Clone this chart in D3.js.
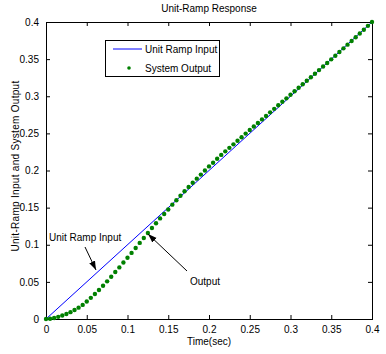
<!DOCTYPE html>
<html><head><meta charset="utf-8">
<script src="https://cdn.jsdelivr.net/npm/d3@7"></script>
<style>body{margin:0;background:#fff}svg{display:block;font-family:"Liberation Sans",Arial,sans-serif}</style>
</head><body><svg id="c" width="386" height="354"></svg>
<script>
const time = [0,0.005,0.01,0.015,0.02,0.025,0.03,0.035,0.04,0.045,0.05,0.055,0.06,0.065,0.07,0.075,0.08,0.085,0.09,0.095,0.1,0.105,0.11,0.115,0.12,0.125,0.13,0.135,0.14,0.145,0.15,0.155,0.16,0.165,0.17,0.175,0.18,0.185,0.19,0.195,0.2,0.205,0.21,0.215,0.22,0.225,0.23,0.235,0.24,0.245,0.25,0.255,0.26,0.265,0.27,0.275,0.28,0.285,0.29,0.295,0.3,0.305,0.31,0.315,0.32,0.325,0.33,0.335,0.34,0.345,0.35,0.355,0.36,0.365,0.37,0.375,0.38,0.385,0.39,0.395,0.4];
const systemOutput = [0,0.0004,0.0014,0.0029,0.0047,0.0068,0.0092,0.0121,0.0153,0.019,0.0235,0.0285,0.0337,0.039,0.0447,0.0507,0.057,0.0632,0.0695,0.076,0.0825,0.089,0.0957,0.1025,0.109,0.1158,0.1225,0.129,0.1355,0.1415,0.1475,0.154,0.16,0.166,0.172,0.1777,0.1835,0.189,0.1945,0.2,0.2055,0.2105,0.2158,0.221,0.2258,0.2305,0.2352,0.24,0.2448,0.2497,0.2545,0.2592,0.264,0.2688,0.2735,0.2783,0.283,0.2878,0.2925,0.2972,0.302,0.3067,0.3115,0.3162,0.3208,0.3256,0.3304,0.3352,0.34,0.3448,0.3497,0.3546,0.3595,0.3645,0.3695,0.3745,0.3795,0.3845,0.3895,0.3948,0.4];
const inputTime = [0, 0.4];
const rampInput = [0, 0.4];
const xTicks = [0,0.05,0.1,0.15,0.2,0.25,0.3,0.35,0.4];
const yTicks = [0,0.05,0.1,0.15,0.2,0.25,0.3,0.35,0.4];
const xTickLabels = ["0","0.05","0.1","0.15","0.2","0.25","0.3","0.35","0.4"];
const yTickLabels = ["0","0.05","0.1","0.15","0.2","0.25","0.3","0.35","0.4"];
const legendLabels = ["Unit Ramp Input","System Output"];

const L=46,T=22,W=326,H=297;
const svg=d3.select("#c");
const x=d3.scaleLinear().domain([0,0.4]).range([L,L+W]);
const y=d3.scaleLinear().domain([0,0.4]).range([T+H,T]);
const fs=10;

const g=svg.append("g");
g.append("g").attr("transform",`translate(0,${T+H})`)
 .call(d3.axisBottom(x).tickValues(xTicks).tickSize(-4).tickPadding(7).tickFormat((d,i)=>xTickLabels[i]))
 .call(a=>a.select(".domain").remove());
g.append("g").attr("transform",`translate(0,${T})`)
 .call(d3.axisTop(x).tickValues(xTicks).tickSize(-4).tickFormat(""))
 .call(a=>a.select(".domain").remove());
g.append("g").attr("transform",`translate(${L},0)`)
 .call(d3.axisLeft(y).tickValues(yTicks).tickSize(-4).tickPadding(7).tickFormat((d,i)=>yTickLabels[i]))
 .call(a=>a.select(".domain").remove());
g.append("g").attr("transform",`translate(${L+W},0)`)
 .call(d3.axisRight(y).tickValues(yTicks).tickSize(-4).tickFormat(""))
 .call(a=>a.select(".domain").remove());
g.selectAll("text").attr("font-size",fs).attr("font-family","Liberation Sans, Arial, sans-serif").attr("fill","#000");
g.selectAll("line").attr("stroke","#000");

svg.append("rect").attr("x",L+0.5).attr("y",T+0.5).attr("width",W).attr("height",H)
 .attr("fill","none").attr("stroke","#000").attr("stroke-width",1);

svg.append("path").datum(inputTime.map((t,i)=>[t,rampInput[i]]))
 .attr("d",d3.line().x(d=>x(d[0])).y(d=>y(d[1])))
 .attr("fill","none").attr("stroke","#0000ff").attr("stroke-width",1);

svg.append("g").selectAll("circle").data(time.map((t,i)=>[t,systemOutput[i]])).join("circle")
 .attr("cx",d=>x(d[0])).attr("cy",d=>y(d[1])).attr("r",2.2).attr("fill","#008000");

svg.append("text").attr("x",L+W/2).attr("y",12).attr("text-anchor","middle").attr("font-size",fs).text("Unit-Ramp Response");
svg.append("text").attr("x",L+W/2).attr("y",345).attr("text-anchor","middle").attr("font-size",fs).text("Time(sec)");
svg.append("text").attr("transform",`translate(19,166) rotate(-90)`).attr("text-anchor","middle").attr("font-size",fs).attr("letter-spacing",0.3).text("Unit-Ramp Input and System Output");

const lg=svg.append("g");
lg.append("rect").attr("x",105.5).attr("y",40.5).attr("width",114).attr("height",36).attr("fill","#fff").attr("stroke","#000");
lg.append("line").attr("x1",113).attr("x2",142).attr("y1",49).attr("y2",49).attr("stroke","#0000ff");
lg.append("circle").attr("cx",129).attr("cy",68).attr("r",1.8).attr("fill","#008000");
lg.selectAll("text.l").data(legendLabels).join("text").attr("class","l")
 .attr("x",145).attr("y",(d,i)=>49+i*19).attr("dy","0.35em").attr("font-size",fs).text(d=>d);

svg.append("defs").append("marker").attr("id","ah").attr("viewBox","0 0 10 10").attr("refX",10).attr("refY",5)
 .attr("markerWidth",9).attr("markerHeight",9).attr("markerUnits","userSpaceOnUse").attr("orient","auto")
 .append("path").attr("d","M0,1.5 L10,5 L0,8.5 Z").attr("fill","#000");
svg.append("text").attr("x",49).attr("y",241).attr("font-size",fs).text("Unit Ramp Input");
svg.append("line").attr("x1",85).attr("y1",247).attr("x2",96).attr("y2",270).attr("stroke","#000").attr("marker-end","url(#ah)");
svg.append("text").attr("x",190).attr("y",285).attr("font-size",fs).text("Output");
svg.append("line").attr("x1",187).attr("y1",271).attr("x2",148).attr("y2",234).attr("stroke","#000").attr("marker-end","url(#ah)");
</script></body></html>
